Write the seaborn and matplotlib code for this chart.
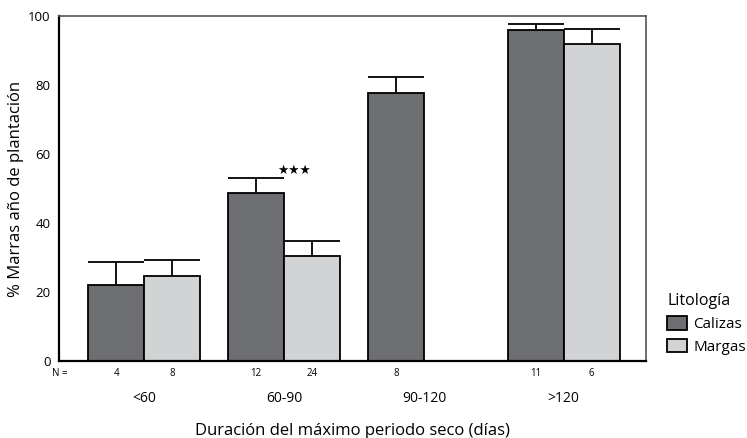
import numpy as np
import pandas as pd
import matplotlib
matplotlib.use('Agg')
import matplotlib.pyplot as plt
import seaborn as sns

# Data
categories = ['<60', '60-90', '90-120', '>120']
lithologies = ['Calizas', 'Margas']
calizas_pct = [21.9, 48.6, 77.6, 96.0]
margas_pct = [24.7, 30.5, np.nan, 92.0]
calizas_err = [6.7, 4.4, 4.9, 1.7]
margas_err = [4.5, 4.3, np.nan, 4.4]
calizas_n = ['4', '12', '8', '11']
margas_n = ['8', '24', '', '6']
signif_text = '★★★'

colors = {'Calizas': '#6d6e72', 'Margas': '#d2d3d5'}

df = pd.DataFrame({'periodo': categories * 2,
                   'litologia': ['Calizas'] * 4 + ['Margas'] * 4,
                   'value': calizas_pct + margas_pct,
                   'err': calizas_err + margas_err,
                   'n': calizas_n + margas_n})
plot_df = df.dropna(subset = ['value']).reset_index(drop = True)

sns.set_theme(style = 'white')
plt.rcParams['font.family'] = ['Open Sans', 'DejaVu Sans']
plt.rcParams['text.color'] = 'black'
plt.rcParams['axes.labelcolor'] = 'black'
plt.rcParams['xtick.color'] = 'black'
plt.rcParams['ytick.color'] = 'black'

fig = plt.figure(figsize = (7.47, 4.38), dpi = 100)
ax = fig.add_axes([0.079, 0.176, 0.786, 0.787])

sns.barplot(ax = ax,
            data = plot_df,
            x = 'periodo',
            y = 'value',
            hue = 'litologia',
            order = categories,
            hue_order = lithologies,
            palette = colors,
            width = 0.8,
            errorbar = None,
            edgecolor = 'black',
            linewidth = 1.3,
            saturation = 1)

# Upward error bars with caps as wide as the bar
offsets = {'Calizas': -0.2, 'Margas': 0.2}
for _, row in plot_df.iterrows():
    xc = categories.index(row['periodo']) + offsets[row['litologia']]
    top = row['value'] + row['err']
    ax.vlines(xc, row['value'], top, color = 'black', linewidth = 1.3, zorder = 1)
    ax.hlines(top, xc - 0.2, xc + 0.2, color = 'black', linewidth = 1.3, zorder = 1)
    # sample size under each bar
    ax.text(xc, -0.037, row['n'], transform = ax.get_xaxis_transform(),
            ha = 'center', va = 'center', fontsize = 7)

ax.text(-0.012, -0.037, 'N =', transform = ax.transAxes,
        ha = 'left', va = 'center', fontsize = 7)

ax.text(1.07, 55.4, signif_text, ha = 'center', va = 'center',
        fontsize = 9, fontweight = 'bold', family = ['DejaVu Sans'])

ax.set_xlim(-0.61, 3.59)
ax.set_ylim(0, 100)
ax.set_yticks([0, 20, 40, 60, 80, 100])
ax.tick_params(axis = 'x', length = 0, pad = 22, labelsize = 10)
ax.tick_params(axis = 'y', length = 0, pad = 6, labelsize = 9.5)

ax.set_xlabel('Duración del máximo periodo seco (días)', fontsize = 12, labelpad = 12)
ax.set_ylabel('% Marras año de plantación', fontsize = 12, labelpad = 3)

for side in ['left', 'bottom']:
    ax.spines[side].set_color('black')
    ax.spines[side].set_linewidth(1.6)
for side in ['top', 'right']:
    ax.spines[side].set_color('#555555')
    ax.spines[side].set_linewidth(1.2)

leg = ax.legend(title = 'Litología', loc = 'upper left',
                bbox_to_anchor = (0.885, 0.345), bbox_transform = fig.transFigure,
                frameon = False, fontsize = 11, title_fontsize = 11.5,
                handlelength = 1.3, handleheight = 1.0, handletextpad = 0.4,
                labelspacing = 0.45, borderaxespad = 0)
leg._legend_box.align = 'left'

fig.savefig('out.png', dpi = 100)
